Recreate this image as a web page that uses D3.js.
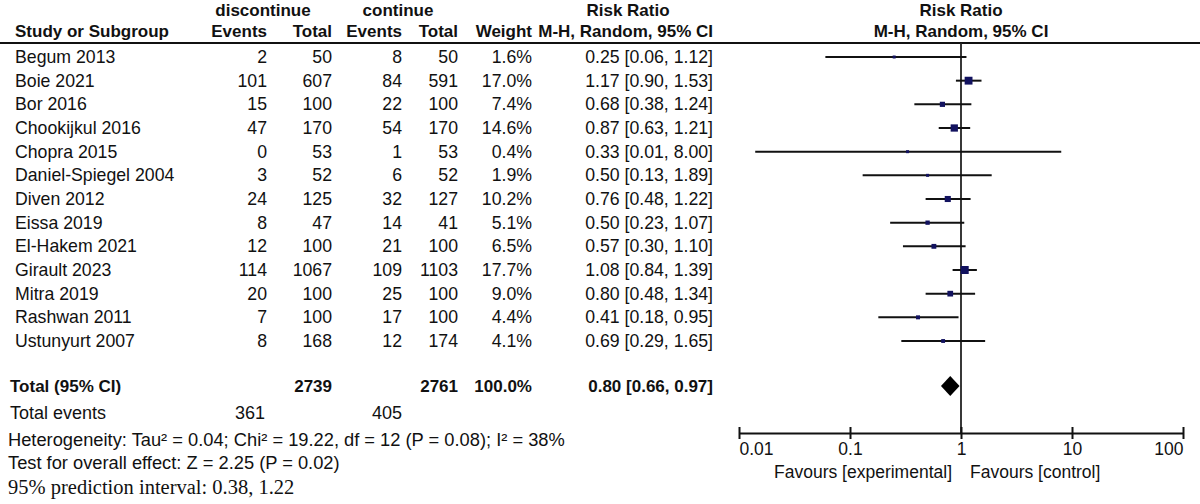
<!DOCTYPE html>
<html>
<head>
<meta charset="utf-8">
<script src="https://cdn.jsdelivr.net/npm/d3@7"></script>
<style>
  body { margin: 0; background: #fff; }
  svg text { font-family: Arial, "Liberation Sans", sans-serif; fill: #111; }
  .b { font-weight: bold; }
</style>
</head>
<body>
<svg id="canvas" width="1200" height="504"></svg>
<script>
// study rows
let studies = ['Begum 2013', 'Boie 2021', 'Bor 2016', 'Chookijkul 2016', 'Chopra 2015',
    'Daniel-Spiegel 2004', 'Diven 2012', 'Eissa 2019', 'El-Hakem 2021', 'Girault 2023',
    'Mitra 2019', 'Rashwan 2011', 'Ustunyurt 2007'];
let eventsDisc = [2, 101, 15, 47, 0, 3, 24, 8, 12, 114, 20, 7, 8];
let totalDisc = [50, 607, 100, 170, 53, 52, 125, 47, 100, 1067, 100, 100, 168];
let eventsCont = [8, 84, 22, 54, 1, 6, 32, 14, 21, 109, 25, 17, 12];
let totalCont = [50, 591, 100, 170, 53, 52, 127, 41, 100, 1103, 100, 100, 174];
let weights = [1.6, 17.0, 7.4, 14.6, 0.4, 1.9, 10.2, 5.1, 6.5, 17.7, 9.0, 4.4, 4.1];
let rr = [0.25, 1.17, 0.68, 0.87, 0.33, 0.50, 0.76, 0.50, 0.57, 1.08, 0.80, 0.41, 0.69];
let ciLow = [0.06, 0.90, 0.38, 0.63, 0.014, 0.13, 0.48, 0.23, 0.30, 0.84, 0.48, 0.18, 0.29];
let ciHigh = [1.12, 1.53, 1.24, 1.21, 8.00, 1.89, 1.22, 1.07, 1.10, 1.39, 1.34, 0.95, 1.65];

// pooled
let totalN = [2739, 2761];
let totalEvents = [361, 405];
let pooled = { rr: 0.80, lo: 0.66, hi: 0.97 };

let axisTicks = [0.01, 0.1, 1, 10, 100];
let axisLabels = ['0.01', '0.1', '1', '10', '100'];

let canvas = d3.select('#canvas');

let x = d3.scaleLog().domain([0.01, 100]).range([739, 1183]);
let y = d3.scalePoint().domain(studies).range([57, 341]);
let boxSize = d3.scaleSqrt().domain([0, 17.7]).range([0, 8]);

let fmt2 = (v) => v.toFixed(2);
let rowFont = 17.7;

let rows = studies.map((name, i) => {
    return {
        name: name,
        ed: eventsDisc[i], td: totalDisc[i], ec: eventsCont[i], tc: totalCont[i],
        w: weights[i], rr: rr[i], lo: ciLow[i], hi: ciHigh[i]
    };
});

// column right edges
let cols = [
    { x: 267, get: (d) => d.ed },
    { x: 332, get: (d) => d.td },
    { x: 402, get: (d) => d.ec },
    { x: 458, get: (d) => d.tc },
    { x: 532, get: (d) => d.w.toFixed(1) + '%' },
    { x: 713, get: (d) => fmt2(d.rr) + ' [' + fmt2(d.lo) + ', ' + fmt2(d.hi) + ']' }
];

let addText = (tx, ty, str, anchor, cls, size) => {
    return canvas.append('text')
        .attr('x', tx)
        .attr('y', ty)
        .attr('dominant-baseline', 'central')
        .attr('text-anchor', anchor)
        .attr('class', cls || null)
        .style('font-size', (size || 17) + 'px')
        .text(str);
};

// headers
addText(263, 10, 'discontinue', 'middle', 'b');
addText(398, 10, 'continue', 'middle', 'b');
addText(628, 10, 'Risk Ratio', 'middle', 'b');
addText(961, 10, 'Risk Ratio', 'middle', 'b');
addText(15, 31, 'Study or Subgroup', 'start', 'b');
addText(267, 31, 'Events', 'end', 'b');
addText(332, 31, 'Total', 'end', 'b');
addText(402, 31, 'Events', 'end', 'b');
addText(458, 31, 'Total', 'end', 'b');
addText(532, 31, 'Weight', 'end', 'b');
addText(713, 31, 'M-H, Random, 95% CI', 'end', 'b');
addText(961, 31, 'M-H, Random, 95% CI', 'middle', 'b');

canvas.append('line')
    .attr('x1', 0).attr('x2', 1200)
    .attr('y1', 43).attr('y2', 43)
    .attr('stroke', '#111').attr('stroke-width', 2);

// table rows
canvas.selectAll('text.study')
    .data(rows)
    .enter()
    .append('text')
    .attr('class', 'study')
    .attr('x', 15)
    .attr('y', (d) => y(d.name))
    .attr('dominant-baseline', 'central')
    .style('font-size', rowFont + 'px')
    .text((d) => d.name);

cols.forEach((c) => {
    canvas.selectAll(null)
        .data(rows)
        .enter()
        .append('text')
        .attr('x', c.x)
        .attr('y', (d) => y(d.name))
        .attr('dominant-baseline', 'central')
        .attr('text-anchor', 'end')
        .style('font-size', rowFont + 'px')
        .text(c.get);
});

// total row
let yTotal = 386;
addText(10, yTotal, 'Total (95% CI)', 'start', 'b');
addText(332, yTotal, totalN[0], 'end', 'b');
addText(458, yTotal, totalN[1], 'end', 'b');
addText(532, yTotal, '100.0%', 'end', 'b');
addText(713, yTotal, fmt2(pooled.rr) + ' [' + fmt2(pooled.lo) + ', ' + fmt2(pooled.hi) + ']', 'end', 'b');

addText(10, 413, 'Total events', 'start', null, 18);
addText(265, 413, totalEvents[0], 'end', null, 18);
addText(402, 413, totalEvents[1], 'end', null, 18);
addText(8, 439, 'Heterogeneity: Tau\u00b2 = 0.04; Chi\u00b2 = 19.22, df = 12 (P = 0.08); I\u00b2 = 38%', 'start', null, 18.3);
addText(8, 462, 'Test for overall effect: Z = 2.25 (P = 0.02)', 'start', null, 18.3);
addText(8, 487, '95% prediction interval: 0.38, 1.22', 'start', null, 20.5)
    .style('font-family', '"Liberation Serif", "Times New Roman", serif');

// null line
canvas.append('line')
    .attr('x1', x(1)).attr('x2', x(1))
    .attr('y1', 43).attr('y2', 433)
    .attr('stroke', '#222').attr('stroke-width', 1.8);

// whiskers
canvas.selectAll('line.ci')
    .data(rows)
    .enter()
    .append('line')
    .attr('class', 'ci')
    .attr('x1', (d) => x(d.lo))
    .attr('x2', (d) => x(d.hi))
    .attr('y1', (d) => y(d.name))
    .attr('y2', (d) => y(d.name))
    .attr('stroke', '#111')
    .attr('stroke-width', 2);

// boxes
let side = (d) => Math.max(3, boxSize(d.w));
canvas.selectAll('rect.box')
    .data(rows)
    .enter()
    .append('rect')
    .attr('class', 'box')
    .attr('x', (d) => x(d.rr) - side(d) / 2)
    .attr('y', (d) => y(d.name) - side(d) / 2)
    .attr('width', side)
    .attr('height', side)
    .attr('fill', '#12125f');

// pooled diamond
canvas.append('path')
    .attr('d', 'M' + x(pooled.lo) + ',' + yTotal +
        'L' + x(pooled.rr) + ',' + (yTotal - 10) +
        'L' + x(pooled.hi) + ',' + yTotal +
        'L' + x(pooled.rr) + ',' + (yTotal + 10) + 'Z')
    .attr('fill', '#000');

// axis
let axis = d3.axisBottom(x)
    .tickValues(axisTicks)
    .tickFormat((d, i) => axisLabels[i])
    .tickSizeOuter(0);

let axisG = canvas.append('g')
    .attr('transform', 'translate(0,433)')
    .call(axis);

axisG.select('.domain').attr('stroke', '#111').attr('stroke-width', 2);
axisG.selectAll('.tick line')
    .attr('y1', -6).attr('y2', 6)
    .attr('stroke', '#111').attr('stroke-width', 2);
axisG.selectAll('.tick text')
    .attr('y', 10)
    .attr('dy', '0.71em')
    .style('font-size', '17.5px')
    .style('font-family', 'Arial, "Liberation Sans", sans-serif')
    .attr('fill', '#111')
    .attr('text-anchor', (d, i) => i === 0 ? 'start' : (i === axisTicks.length - 1 ? 'end' : 'middle'));

addText(x(1) - 9, 472, 'Favours [experimental]', 'end', null, 17.5);
addText(x(1) + 9, 472, 'Favours [control]', 'start', null, 17.5);
</script>
</body>
</html>
